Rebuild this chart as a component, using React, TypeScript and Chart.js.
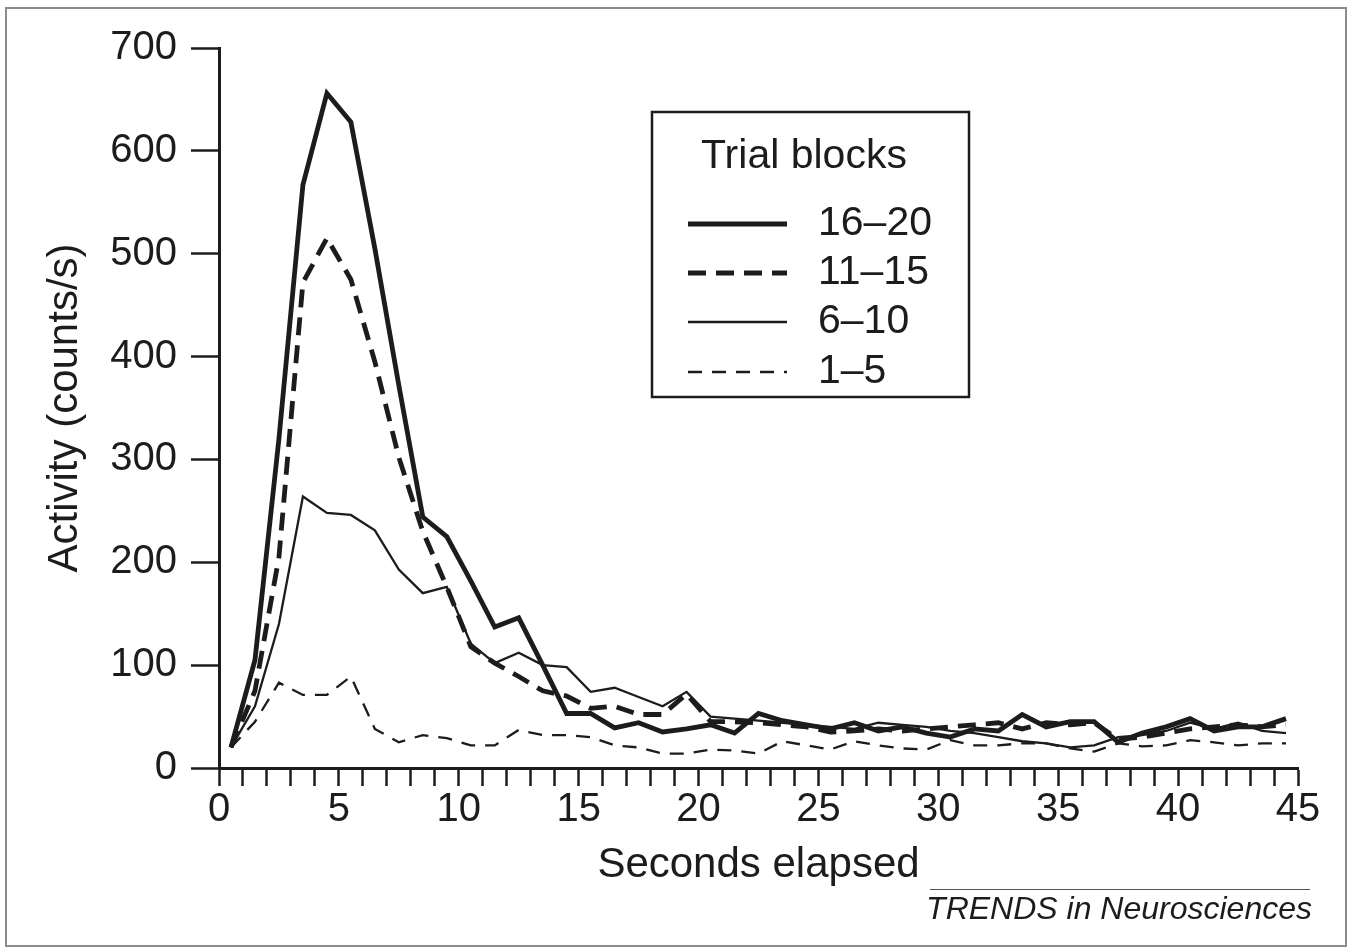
import React, { useEffect, useRef } from "react";
import { Chart, registerables } from "chart.js";

Chart.register(...registerables);

const seconds = [0.5, 1.5, 2.5, 3.5, 4.5, 5.5, 6.5, 7.5, 8.5, 9.5, 10.5, 11.5, 12.5, 13.5, 14.5, 15.5, 16.5, 17.5, 18.5, 19.5, 20.5, 21.5, 22.5, 23.5, 24.5, 25.5, 26.5, 27.5, 28.5, 29.5, 30.5, 31.5, 32.5, 33.5, 34.5, 35.5, 36.5, 37.5, 38.5, 39.5, 40.5, 41.5, 42.5, 43.5, 44.5];

const block16to20 = [20, 105, 320, 567, 656, 628, 505, 372, 244, 225, 182, 137, 146, 100, 53, 53, 39, 44, 35, 38, 42, 34, 53, 46, 42, 38, 44, 36, 40, 34, 30, 38, 36, 52, 40, 45, 45, 25, 34, 40, 48, 36, 40, 40, 48];
const block11to15 = [20, 75, 205, 472, 515, 475, 395, 302, 230, 176, 118, 102, 89, 75, 70, 58, 60, 52, 52, 72, 45, 45, 44, 42, 40, 35, 36, 38, 36, 38, 40, 42, 44, 38, 44, 42, 44, 28, 30, 34, 38, 40, 42, 40, 42];
const block6to10 = [20, 60, 140, 264, 248, 246, 231, 193, 170, 176, 121, 102, 112, 100, 98, 74, 78, 69, 60, 74, 50, 48, 46, 44, 42, 40, 38, 44, 42, 40, 36, 34, 30, 26, 24, 20, 22, 30, 32, 36, 44, 38, 44, 36, 34];
const block1to5 = [20, 45, 83, 71, 71, 89, 38, 25, 32, 29, 22, 22, 37, 32, 32, 30, 22, 20, 14, 14, 18, 17, 14, 26, 22, 18, 26, 22, 19, 18, 27, 22, 22, 24, 24, 19, 16, 24, 21, 22, 27, 25, 22, 24, 24];

const seriesLabels = ["16–20", "11–15", "6–10", "1–5"];
const legendTitle = "Trial blocks";
const xTitle = "Seconds elapsed";
const yTitle = "Activity (counts/s)";
const credit = "TRENDS in Neurosciences";

const FONT = "'Liberation Sans', Arial, Helvetica, sans-serif";
const INK = "#1c1c1c";

const legendPlugin = {
  id: "boxLegend",
  afterDraw(chart: any) {
    const ctx = chart.ctx;
    ctx.save();
    ctx.strokeStyle = INK;
    ctx.lineWidth = 2.5;
    ctx.setLineDash([]);
    ctx.strokeRect(652, 112, 317, 285);
    ctx.fillStyle = INK;
    ctx.font = `41px ${FONT}`;
    ctx.textBaseline = "middle";
    ctx.textAlign = "center";
    ctx.fillText(legendTitle, 804, 157);
    const rows = [224, 273, 322, 372];
    chart.data.datasets.forEach((ds: any, i: number) => {
      const y = rows[i];
      ctx.beginPath();
      ctx.strokeStyle = ds.borderColor;
      ctx.lineWidth = ds.borderWidth;
      ctx.setLineDash(ds.borderDash || []);
      ctx.moveTo(688, y);
      ctx.lineTo(787, y);
      ctx.stroke();
      ctx.setLineDash([]);
      ctx.textAlign = "left";
      ctx.fillStyle = INK;
      ctx.fillText(ds.label, 818, y);
    });
    ctx.restore();
  },
};

export default function App() {
  const canvasRef = useRef<HTMLCanvasElement | null>(null);

  useEffect(() => {
    if (!canvasRef.current) return;
    const mk = (label: string, values: number[], width: number, dash: number[]) => ({
      label,
      data: seconds.map((s, i) => ({ x: s, y: values[i] })),
      borderColor: INK,
      backgroundColor: INK,
      borderWidth: width,
      borderDash: dash,
      pointRadius: 0,
      tension: 0,
      fill: false,
    });
    const chart = new Chart(canvasRef.current, {
      type: "line",
      data: {
        datasets: [
          mk(seriesLabels[0], block16to20, 4.8, []),
          mk(seriesLabels[1], block11to15, 4.8, [18, 10]),
          mk(seriesLabels[2], block6to10, 2.3, []),
          mk(seriesLabels[3], block1to5, 2.3, [14, 10]),
        ],
      },
      options: {
        responsive: false,
        animation: false,
        layout: { padding: { left: 0, top: 48, right: 54, bottom: 0 } },
        plugins: {
          legend: { display: false },
          tooltip: { enabled: false },
        },
        scales: {
          x: {
            type: "linear",
            min: 0,
            max: 45,
            afterFit: (scale: any) => {
              scale.height = 182;
            },
            ticks: {
              stepSize: 1,
              autoSkip: false,
              maxRotation: 0,
              padding: 0,
              color: INK,
              font: { family: FONT, size: 40 },
              callback: (v: any) => (Number(v) % 5 === 0 ? String(v) : ""),
            },
            grid: {
              display: true,
              drawOnChartArea: false,
              drawTicks: true,
              tickLength: 18,
              tickWidth: 2.5,
              tickColor: INK,
            },
            border: { display: true, width: 3, color: INK },
            title: {
              display: true,
              text: xTitle,
              color: INK,
              font: { family: FONT, size: 42 },
              padding: { top: 0, bottom: 59 },
            },
          },
          y: {
            type: "linear",
            min: 0,
            max: 700,
            afterFit: (scale: any) => {
              scale.width = 219;
            },
            ticks: {
              stepSize: 100,
              padding: 14,
              color: INK,
              font: { family: FONT, size: 40 },
            },
            grid: {
              display: true,
              drawOnChartArea: false,
              drawTicks: true,
              tickLength: 28,
              tickWidth: 2.5,
              tickColor: INK,
            },
            border: { display: true, width: 3, color: INK },
            title: {
              display: true,
              text: yTitle,
              color: INK,
              font: { family: FONT, size: 42 },
              padding: { top: 40, bottom: 0 },
            },
          },
        },
      },
      plugins: [legendPlugin],
    });
    return () => chart.destroy();
  }, []);

  return (
    <div style={{ position: "fixed", left: 0, top: 0, width: 1352, height: 950, background: "#fff", overflow: "hidden" }}>
      <canvas ref={canvasRef} width={1352} height={950} style={{ position: "absolute", left: 0, top: 0, width: 1352, height: 950 }} />
      <div style={{ position: "absolute", left: 5, top: 7, width: 1338, height: 936, border: "2px solid #8c8c8c", pointerEvents: "none" }} />
      <div style={{ position: "absolute", left: 930, top: 889, width: 380, borderTop: "1.5px solid #555" }} />
      <div style={{ position: "absolute", left: 900, top: 890, width: 412, textAlign: "right", fontFamily: FONT, fontStyle: "italic", fontSize: 32, color: INK, whiteSpace: "nowrap" }}>{credit}</div>
    </div>
  );
}
